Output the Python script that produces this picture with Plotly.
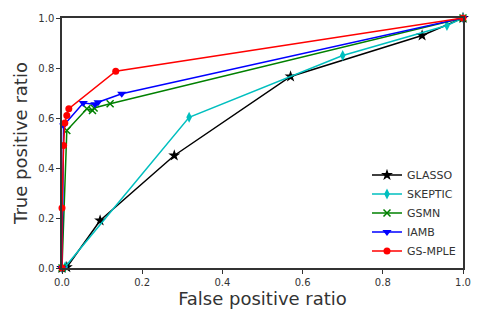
import plotly.graph_objects as go

names = ["GLASSO", "SKEPTIC", "GSMN", "IAMB", "GS-MPLE"]
colors = ["#000000", "#00bfbf", "#008000", "#0000ff", "#ff0000"]
symbols = ["star", "diamond-tall", "x-thin", "triangle-down", "circle"]

glasso_fpr = [0.0, 0.012, 0.095, 0.28, 0.57, 0.898, 1.0]
glasso_tpr = [0.0, 0.003, 0.19, 0.45, 0.766, 0.93, 1.0]

skeptic_fpr = [0.0, 0.008, 0.317, 0.70, 0.96, 1.0]
skeptic_tpr = [0.0, 0.005, 0.603, 0.85, 0.97, 1.0]

gsmn_fpr = [0.0, 0.012, 0.062, 0.076, 0.08, 0.12, 1.0]
gsmn_tpr = [0.0, 0.55, 0.637, 0.63, 0.64, 0.657, 1.0]

iamb_fpr = [0.0, 0.004, 0.053, 0.082, 0.09, 0.149, 1.0]
iamb_tpr = [0.0, 0.57, 0.66, 0.655, 0.663, 0.697, 1.0]

mple_fpr = [0.0, 0.0, 0.004, 0.007, 0.012, 0.017, 0.134, 1.0]
mple_tpr = [0.0, 0.24, 0.49, 0.58, 0.61, 0.637, 0.787, 1.0]

xs = [glasso_fpr, skeptic_fpr, gsmn_fpr, iamb_fpr, mple_fpr]
ys = [glasso_tpr, skeptic_tpr, gsmn_tpr, iamb_tpr, mple_tpr]
msizes = [9, 8, 7, 8, 7]

fig = go.Figure()
for n, c, s, x, y, ms in zip(names, colors, symbols, xs, ys, msizes):
    fig.add_trace(go.Scatter(
        x=x, y=y, name=n, mode="lines+markers",
        line=dict(color=c, width=1.5),
        marker=dict(symbol=s, size=ms, color=c, line=dict(color=c, width=1.5 if s == "x-thin" else 0)),
        cliponaxis=False,
    ))

axis_common = dict(
    range=[0, 1], tickvals=[0, 0.2, 0.4, 0.6, 0.8, 1.0], tickformat=".1f",
    showgrid=False, zeroline=False, showline=True, linecolor="#333333", linewidth=1.5,
    mirror=True, ticks="outside", ticklen=4, tickcolor="#333333",
    tickfont=dict(family="DejaVu Sans", size=10, color="#333333"),
    automargin=False,
)

title_font = dict(family="DejaVu Sans", size=18, color="#333333")

fig.update_layout(
    width=485, height=323,
    margin=dict(l=54, r=30, t=10, b=63),
    paper_bgcolor="white", plot_bgcolor="white",
    xaxis=dict(axis_common, title=dict(text="False positive ratio", font=title_font, standoff=6)),
    yaxis=dict(axis_common, title=dict(text="True positive ratio", font=title_font, standoff=6)),
    legend=dict(x=0.995, y=0.01, xanchor="right", yanchor="bottom",
                borderwidth=0, bgcolor="rgba(255,255,255,0.8)",
                font=dict(family="DejaVu Sans", size=11, color="#333333"),
                tracegroupgap=0, itemwidth=30),
    showlegend=True,
)

fig.write_html("out.html")
